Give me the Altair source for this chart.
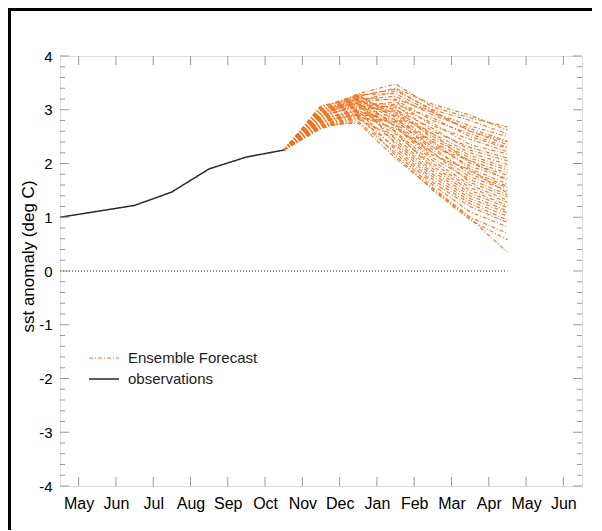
import altair as alt
import pandas as pd

# ---------------- data ----------------
month_labels = ["May", "Jun", "Jul", "Aug", "Sep", "Oct", "Nov",
                "Dec", "Jan", "Feb", "Mar", "Apr", "May", "Jun"]
month_ticks = [0.5 + i for i in range(14)]

obs_months = [0, 1, 2, 3, 4, 5, 6]
obs_values = [1.00, 1.11, 1.22, 1.47, 1.90, 2.12, 2.25]

fc_months = [6, 7, 8, 9, 10, 11, 12]
ensemble = [
    [2.25, 3.00, 3.30, 3.48, 3.05, 2.85, 2.68],
    [2.25, 3.05, 3.25, 3.40, 3.10, 2.90, 2.62],
    [2.25, 2.95, 3.28, 3.30, 2.95, 2.70, 2.50],
    [2.25, 3.08, 3.20, 3.25, 2.90, 2.65, 2.42],
    [2.25, 2.90, 3.15, 3.20, 2.95, 2.60, 2.35],
    [2.25, 2.85, 3.22, 3.18, 2.80, 2.55, 2.30],
    [2.25, 3.02, 3.12, 3.10, 2.85, 2.50, 2.28],
    [2.25, 2.80, 3.05, 3.15, 2.70, 2.45, 2.22],
    [2.25, 2.95, 3.10, 3.05, 2.75, 2.35, 2.18],
    [2.25, 2.75, 3.00, 3.08, 2.60, 2.30, 2.10],
    [2.25, 3.00, 3.18, 3.00, 2.65, 2.25, 2.05],
    [2.25, 2.70, 2.95, 2.98, 2.55, 2.20, 1.98],
    [2.25, 2.88, 3.08, 2.95, 2.50, 2.15, 1.92],
    [2.25, 2.78, 3.02, 3.02, 2.45, 2.10, 1.88],
    [2.25, 2.92, 3.25, 2.92, 2.40, 2.05, 1.82],
    [2.25, 2.68, 2.90, 2.90, 2.55, 2.00, 1.78],
    [2.25, 2.82, 3.15, 2.88, 2.35, 1.95, 1.72],
    [2.25, 3.05, 3.28, 2.85, 2.30, 2.05, 1.68],
    [2.25, 2.72, 2.92, 2.82, 2.40, 1.90, 1.62],
    [2.25, 2.98, 3.20, 2.80, 2.25, 1.85, 1.58],
    [2.25, 2.65, 2.85, 2.78, 2.30, 1.80, 1.55],
    [2.25, 2.85, 3.10, 2.75, 2.20, 1.75, 1.50],
    [2.25, 2.76, 2.98, 2.72, 2.15, 1.88, 1.45],
    [2.25, 2.90, 3.05, 2.70, 2.10, 1.70, 1.42],
    [2.25, 2.70, 2.88, 2.65, 2.20, 1.65, 1.38],
    [2.25, 3.00, 3.22, 2.68, 2.05, 1.60, 1.32],
    [2.25, 2.82, 3.00, 2.60, 2.00, 1.55, 1.28],
    [2.25, 2.74, 2.95, 2.55, 1.95, 1.50, 1.22],
    [2.25, 2.95, 3.12, 2.58, 1.90, 1.45, 1.18],
    [2.25, 2.66, 2.82, 2.50, 1.85, 1.40, 1.12],
    [2.25, 2.88, 3.08, 2.45, 1.80, 1.35, 1.08],
    [2.25, 2.78, 2.92, 2.40, 1.75, 1.30, 1.02],
    [2.25, 2.92, 3.18, 2.35, 1.70, 1.25, 0.95],
    [2.25, 2.70, 2.85, 2.30, 1.65, 1.20, 0.90],
    [2.25, 2.84, 2.98, 2.25, 1.60, 1.10, 0.82],
    [2.25, 2.68, 2.78, 2.20, 1.55, 1.00, 0.70],
    [2.25, 2.80, 2.90, 2.15, 1.50, 0.95, 0.58],
    [2.25, 2.72, 2.75, 2.10, 1.52, 0.98, 0.35],
    [2.25, 2.96, 3.15, 3.35, 3.00, 2.80, 2.55],
    [2.25, 2.86, 3.26, 3.38, 2.98, 2.60, 2.40],
]

zero_span = [0, 12]
y_major = [-4, -3, -2, -1, 0, 1, 2, 3, 4]
y_minor = [round(-4 + 0.2 * i, 1) for i in range(41) if i % 5 != 0]

series_names = ["Ensemble Forecast", "observations"]
series_colors = ["#f5721f", "#2a2a2a"]
series_widths = [1.1, 1.5]

# ---------------- tables ----------------
rows = []
for k, member in enumerate(ensemble):
    for m, v in zip(fc_months, member):
        rows.append({"month": m, "value": v, "member": f"e{k}", "series": series_names[0]})
for m, v in zip(obs_months, obs_values):
    rows.append({"month": m, "value": v, "member": "obs", "series": series_names[1]})
lines_df = pd.DataFrame(rows)

W, H = 522, 430
FONT = "Liberation Sans"

xscale = alt.Scale(domain=[0, 14], nice=False, zero=False)
yscale = alt.Scale(domain=[-4, 4], nice=False, zero=False)

label_expr = "[" + ",".join(f"'{m}'" for m in month_labels) + "][round(datum.value - 0.5)]"

legend = alt.Legend(
    title=None, orient="none", legendX=28, legendY=294,
    symbolType="stroke", symbolSize=900, symbolStrokeWidth=1.4,
    labelFont=FONT, labelFontSize=15, labelColor="#222222",
    labelOffset=8, rowPadding=5, padding=0, clipHeight=16,
)

lines = alt.Chart(lines_df).mark_line().encode(
    x=alt.X("month:Q", scale=xscale,
            axis=alt.Axis(values=month_ticks, labelExpr=label_expr, title=None,
                          ticks=False, domain=False, grid=False,
                          labelFont=FONT, labelFontSize=16, labelColor="#000",
                          labelPadding=9, labelFlush=False)),
    y=alt.Y("value:Q", scale=yscale,
            axis=alt.Axis(values=y_major, labelExpr="'' + datum.value",
                          title="sst anomaly (deg C)",
                          ticks=False, domain=False, grid=False,
                          labelFont=FONT, labelFontSize=15, labelColor="#000",
                          labelPadding=8, titleFont=FONT, titleFontSize=17,
                          titleFontWeight="normal", titleColor="#000",
                          titlePadding=1, titleY=200)),
    color=alt.Color("series:N", scale=alt.Scale(domain=series_names, range=series_colors),
                    legend=legend),
    strokeDash=alt.StrokeDash("series:N",
                              scale=alt.Scale(domain=series_names, range=[[4, 2, 1, 2], [1, 0]]),
                              legend=legend),
    strokeWidth=alt.StrokeWidth("series:N",
                                scale=alt.Scale(domain=series_names, range=series_widths),
                                legend=None),
    detail="member:N",
    order=alt.Order("month:Q"),
)

zero_df = pd.DataFrame({"x": [zero_span[0]], "x2": [zero_span[1]], "y": [0]})
zero = alt.Chart(zero_df).mark_rule(color="#222222", strokeDash=[1, 2], strokeWidth=1.2).encode(
    x=alt.X("x:Q", scale=xscale), x2="x2:Q",
    y=alt.Y("y:Q", scale=yscale),
)

tick_color = "#999999"
ymaj_df = pd.DataFrame({"v": y_major})
ymin_df = pd.DataFrame({"v": y_minor})
xt_df = pd.DataFrame({"m": month_ticks})

def yticks(df, length, side):
    x0 = 0 if side == "left" else W - length
    return alt.Chart(df).mark_rule(color=tick_color, strokeWidth=1).encode(
        y=alt.Y("v:Q", scale=yscale),
        x=alt.value(x0), x2=alt.value(x0 + length),
    )

def xticks(side, length=9):
    y0 = 0 if side == "top" else H - length
    return alt.Chart(xt_df).mark_rule(color=tick_color, strokeWidth=1).encode(
        x=alt.X("m:Q", scale=xscale),
        y=alt.value(y0), y2=alt.value(y0 + length),
    )

ticks = [yticks(ymaj_df, 9, "left"), yticks(ymaj_df, 9, "right"),
         yticks(ymin_df, 5, "left"), yticks(ymin_df, 5, "right"),
         xticks("top"), xticks("bottom")]

frame_df = pd.DataFrame({"k": [0]})
frame_left = alt.Chart(frame_df).mark_rule(color="#000", strokeWidth=3).encode(
    x=alt.value(-50.5), y=alt.value(-48), y2=alt.value(H + 44))
frame_top = alt.Chart(frame_df).mark_rule(color="#000", strokeWidth=3).encode(
    x=alt.value(-52), x2=alt.value(W + 10), y=alt.value(-46.5))

chart = alt.layer(
    lines, zero, *ticks, frame_left, frame_top
).properties(
    width=W, height=H,
    autosize=alt.AutoSizeParams(type="none"),
    padding={"left": 52, "top": 48, "right": 10, "bottom": 44},
).configure_view(
    stroke="#aaaaaa", strokeWidth=1.2
).configure(background="white")

chart.save("out.html", embed_options={"renderer": "svg", "actions": False})
